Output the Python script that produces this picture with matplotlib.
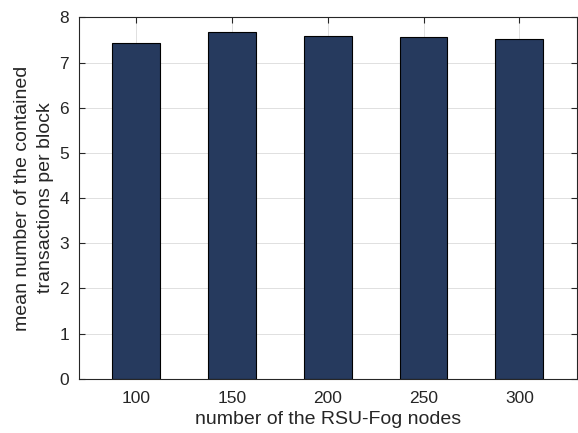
# Mean number of transactions per block vs RSU-Fog node count
import matplotlib.pyplot as plt
import numpy as np

plt.rcParams['font.family'] = ['Liberation Sans', 'DejaVu Sans']

# data
nodes = [100, 150, 200, 250, 300]
mean_tx = [7.44, 7.68, 7.59, 7.57, 7.51]
yticks = [0, 1, 2, 3, 4, 5, 6, 7, 8]

fig = plt.figure(figsize=(5.78, 4.33), dpi=100)
ax = fig.add_axes([0.136, 0.125, 0.862, 0.835])

ax.bar(nodes, mean_tx, width=25, color='#263a5e', edgecolor='black', linewidth=0.8, zorder=3)

ax.set_xlim(70, 330)
ax.set_ylim(0, 8)
ax.set_xticks(nodes)
ax.set_yticks(yticks)

ax.grid(True, color='#e0e0e0', linewidth=0.7, zorder=0)
ax.tick_params(direction='in', top=True, right=True, length=4, labelsize=12.5,
               color='#262626', labelcolor='#262626')
ax.tick_params(axis='x', pad=9)
ax.tick_params(axis='y', pad=7)
for s in ax.spines.values():
    s.set_color('#262626')
    s.set_linewidth(0.8)
    s.set_zorder(4)

ax.set_xlabel('number of the RSU-Fog nodes', fontsize=14, color='#262626', labelpad=3)
ax.set_ylabel('mean number of the contained\ntransactions per block', fontsize=14,
              color='#262626', labelpad=4, linespacing=1.45)

fig.savefig('out.png', dpi=100)
